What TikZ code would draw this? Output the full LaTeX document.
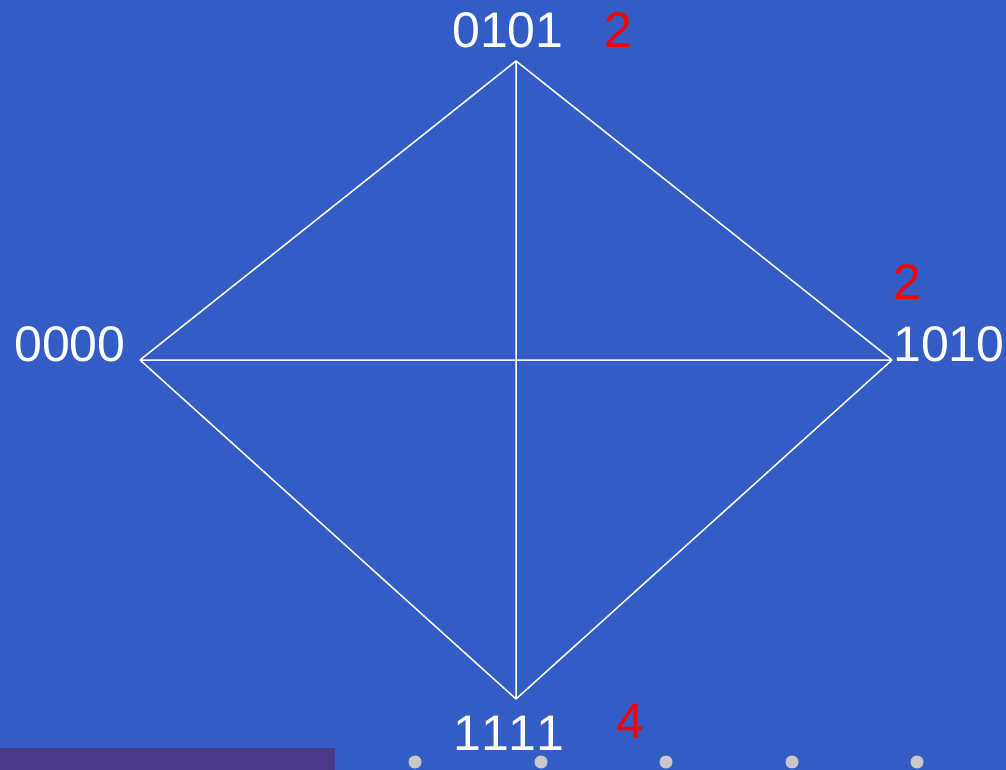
\documentclass[tikz,border=0pt]{standalone}
\usepackage{fontspec}
\setmainfont[Kerning=Off]{Liberation Sans}
\definecolor{bg}{HTML}{335DC4}
\definecolor{barc}{HTML}{4A3B8A}
\definecolor{dotc}{HTML}{C8C8C8}
\tikzset{
  lbl/.style={text=white,anchor=base,inner sep=0pt,font=\fontsize{50}{54}\selectfont},
  num/.style={text=red,anchor=base,inner sep=0pt,font=\fontsize{50}{54}\selectfont},
  edge/.style={draw=white,line width=1.5pt},
  dot/.style={circle,fill=dotc,inner sep=0pt,minimum size=13pt}
}
\begin{document}
\begin{tikzpicture}[x=1pt,y=-1pt]
\fill[bg] (0,0) rectangle (1006,770);
\useasboundingbox (0,0) rectangle (1006,770);
\fill[barc] (0,748) rectangle (335,770);
\foreach \i/\x in {1/415,2/541,3/666,4/792,5/917} \node[dot] (d\i) at (\x,762) {};
\coordinate (t) at (516,61);
\coordinate (l) at (140,360);
\coordinate (r) at (892,360);
\coordinate (b) at (516,699);
\draw[edge] (t) -- (l) (t) -- (r) (t) -- (b) (l) -- (r) (l) -- (b) (r) -- (b);
\node[lbl] (lt) at (508,48) {0101};
\node[lbl] (ll) at (70,361) {0000};
\node[lbl] (lr) at (949,361) {1010};
\node[lbl] (lb) at (509,750) {1111};
\node[num] (nt) at (618,48) {2};
\node[num] (nr) at (907,299) {2};
\node[num] (nb) at (630,738) {4};
\end{tikzpicture}
\end{document}
